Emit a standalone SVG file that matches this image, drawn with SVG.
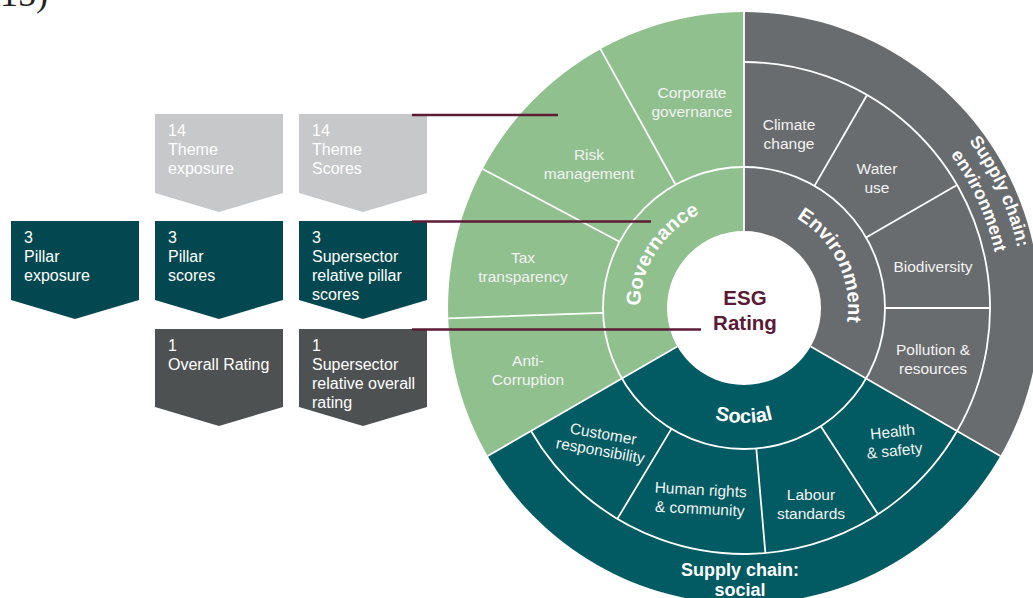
<svg xmlns="http://www.w3.org/2000/svg" width="1033" height="598" viewBox="0 0 1033 598">
  <style>
    .sans { font-family: "Liberation Sans", Arial, sans-serif; }
    .th { font-family: "Liberation Sans", Arial, sans-serif; font-size: 15.5px; fill: #f3f3f3; text-anchor: middle; }
    .bx { font-family: "Liberation Sans", Arial, sans-serif; font-size: 16px; fill: #ffffff; }
    .ring { font-family: "Liberation Sans", Arial, sans-serif; font-weight: bold; font-size: 20px; fill: #ffffff; }
    .sc { font-family: "Liberation Sans", Arial, sans-serif; font-weight: bold; font-size: 18px; fill: #ffffff; }
    .sep { stroke: #ffffff; stroke-width: 1.8; fill: none; }
    .lead { stroke: #5c1c36; stroke-width: 2.6; fill: none; }
    .light { fill: #c7c8ca; }
    .teal { fill: #034850; }
    .dark { fill: #4e5152; }
  </style>
  <defs>
    <!-- baselines for the curved pillar and supply-chain labels; centre of the wheel is (744,308) -->
    <path id="arcGov" d="M653.9 360 A104 104 0 0 1 754.9 204.6"/>
    <path id="arcEnv" d="M745.8 204 A104 104 0 0 1 827.1 370.6"/>
    <path id="arcSoc" d="M644.4 365.5 A115 115 0 0 0 843.6 365.5"/>
    <path id="arcSc1" d="M770.8 29.3 A280 280 0 0 1 972 470.6"/>
    <path id="arcSc2" d="M768.6 52.2 A257 257 0 0 1 953.2 457.2"/>
  </defs>

  <rect width="1033" height="598" fill="#ffffff"/>

  <!-- figure number, cut at the top edge -->
  <text x="0" y="6" font-family="'Liberation Serif', 'Times New Roman', serif" font-size="36" fill="#222222">15)</text>

  <!-- left-hand score boxes -->
  <g id="box-theme-exposure">
    <path class="light" d="M155 114 H283 V193 L219 212 L155 193 Z"/>
    <text class="bx" x="168" y="136">14</text>
    <text class="bx" x="168" y="155">Theme</text>
    <text class="bx" x="168" y="174">exposure</text>
  </g>
  <g id="box-theme-scores">
    <path class="light" d="M299 114 H427 V193 L363 212 L299 193 Z"/>
    <text class="bx" x="312" y="136">14</text>
    <text class="bx" x="312" y="155">Theme</text>
    <text class="bx" x="312" y="174">Scores</text>
  </g>
  <g id="box-pillar-exposure">
    <path class="teal" d="M11 221 H139 V300 L75 319 L11 300 Z"/>
    <text class="bx" x="24" y="243">3</text>
    <text class="bx" x="24" y="262">Pillar</text>
    <text class="bx" x="24" y="281">exposure</text>
  </g>
  <g id="box-pillar-scores">
    <path class="teal" d="M155 221 H283 V300 L219 319 L155 300 Z"/>
    <text class="bx" x="168" y="243">3</text>
    <text class="bx" x="168" y="262">Pillar</text>
    <text class="bx" x="168" y="281">scores</text>
  </g>
  <g id="box-relative-pillar">
    <path class="teal" d="M299 221 H427 V300 L363 319 L299 300 Z"/>
    <text class="bx" x="312" y="243">3</text>
    <text class="bx" x="312" y="262">Supersector</text>
    <text class="bx" x="312" y="281">relative pillar</text>
    <text class="bx" x="312" y="300">scores</text>
  </g>
  <g id="box-overall-rating">
    <path class="dark" d="M155 329 H283 V407 L219 426 L155 407 Z"/>
    <text class="bx" x="168" y="351">1</text>
    <text class="bx" x="168" y="370">Overall Rating</text>
  </g>
  <g id="box-relative-overall">
    <path class="dark" d="M299 329 H427 V407 L363 426 L299 407 Z"/>
    <text class="bx" x="312" y="351">1</text>
    <text class="bx" x="312" y="370">Supersector</text>
    <text class="bx" x="312" y="389">relative overall</text>
    <text class="bx" x="312" y="408">rating</text>
  </g>

  <!-- ESG wheel -->
  <g id="pillar-governance">
    <path fill="#8fc08e" d="M744 308 L487.7 456 A296 296 0 0 1 744 12 Z"/>
  </g>
  <g id="pillar-environment">
    <path fill="#696c6e" d="M744 308 L744 12 A296 296 0 0 1 1000.3 456 Z"/>
  </g>
  <g id="pillar-social">
    <path fill="#025b62" d="M744 308 L1000.3 456 A296 296 0 0 1 487.7 456 Z"/>
  </g>

  <g id="wheel-separators">
    <circle class="sep" cx="744" cy="308" r="141"/>
    <path class="sep" d="M744 62 A246 246 0 1 1 531 431"/>
    <!-- pillar borders -->
    <path class="sep" d="M744 231 L744 12 M810.7 346.5 L1000.3 456 M677.3 346.5 L487.7 456"/>
    <!-- governance themes -->
    <path class="sep" d="M603.1 312.9 L448.2 318.3 M619.5 241.8 L482.6 169 M675.6 184.7 L600.5 49.1"/>
    <!-- environment themes -->
    <path class="sep" d="M814.5 185.9 L867 95 M866.1 237.5 L957 185 M885 308 L990 308"/>
    <!-- social themes -->
    <path class="sep" d="M820.8 426.3 L878 514.3 M756.3 448.5 L765.4 553.1 M671.4 428.9 L617.3 518.9"/>
  </g>

  <g id="centre">
    <circle cx="744" cy="308" r="77" fill="#ffffff"/>
    <text class="sans" x="745" y="305" font-size="20.5" font-weight="bold" fill="#5a1a35" text-anchor="middle">ESG</text>
    <text class="sans" x="745" y="330" font-size="20.5" font-weight="bold" fill="#5a1a35" text-anchor="middle">Rating</text>
  </g>

  <g id="pillar-labels">
    <text class="ring" text-anchor="middle"><textPath href="#arcGov" startOffset="50%">Governance</textPath></text>
    <text class="ring" text-anchor="middle"><textPath href="#arcEnv" startOffset="50%">Environment</textPath></text>
    <text class="ring" text-anchor="middle" font-size="21"><textPath href="#arcSoc" startOffset="50%">Social</textPath></text>
  </g>

  <g id="theme-corporate-governance">
    <text class="th" x="692" y="98">Corporate</text>
    <text class="th" x="692" y="117">governance</text>
  </g>
  <g id="theme-risk-management">
    <text class="th" x="589" y="160">Risk</text>
    <text class="th" x="589" y="179">management</text>
  </g>
  <g id="theme-tax-transparency">
    <text class="th" x="523" y="263">Tax</text>
    <text class="th" x="523" y="282">transparency</text>
  </g>
  <g id="theme-anti-corruption">
    <text class="th" x="528" y="366">Anti-</text>
    <text class="th" x="528" y="385">Corruption</text>
  </g>
  <g id="theme-climate-change">
    <text class="th" x="789" y="130">Climate</text>
    <text class="th" x="789" y="149">change</text>
  </g>
  <g id="theme-water-use">
    <text class="th" x="877" y="174">Water</text>
    <text class="th" x="877" y="193">use</text>
  </g>
  <g id="theme-biodiversity">
    <text class="th" x="933" y="272">Biodiversity</text>
  </g>
  <g id="theme-pollution">
    <text class="th" x="933" y="355">Pollution &amp;</text>
    <text class="th" x="933" y="374">resources</text>
  </g>
  <g id="theme-health-safety" transform="rotate(-6 894 446)">
    <text class="th" x="894" y="437">Health</text>
    <text class="th" x="894" y="456">&amp; safety</text>
  </g>
  <g id="theme-labour-standards">
    <text class="th" x="811" y="500">Labour</text>
    <text class="th" x="811" y="519">standards</text>
  </g>
  <g id="theme-human-rights" transform="rotate(3 700 504)">
    <text class="th" x="700" y="495">Human rights</text>
    <text class="th" x="700" y="514">&amp; community</text>
  </g>
  <g id="theme-customer-responsibility" transform="rotate(10 601 447)">
    <text class="th" x="601" y="439" font-size="14">Customer</text>
    <text class="th" x="601" y="456" font-size="14">responsibility</text>
  </g>

  <g id="supply-chain-environment">
    <text class="sc" text-anchor="middle"><textPath href="#arcSc1" startOffset="50%">Supply chain:</textPath></text>
    <text class="sc" text-anchor="middle"><textPath href="#arcSc2" startOffset="50%">environment</textPath></text>
  </g>
  <g id="supply-chain-social">
    <text class="sc" x="740" y="576" text-anchor="middle">Supply chain:</text>
    <text class="sc" x="740" y="596" text-anchor="middle">social</text>
  </g>

  <!-- leader lines from the score boxes to the wheel levels -->
  <g id="connectors">
    <line class="lead" x1="412" y1="115" x2="558" y2="115"/>
    <line class="lead" x1="412" y1="221.5" x2="651" y2="221.5"/>
    <line class="lead" x1="412" y1="329.5" x2="701" y2="329.5"/>
  </g>
</svg>
